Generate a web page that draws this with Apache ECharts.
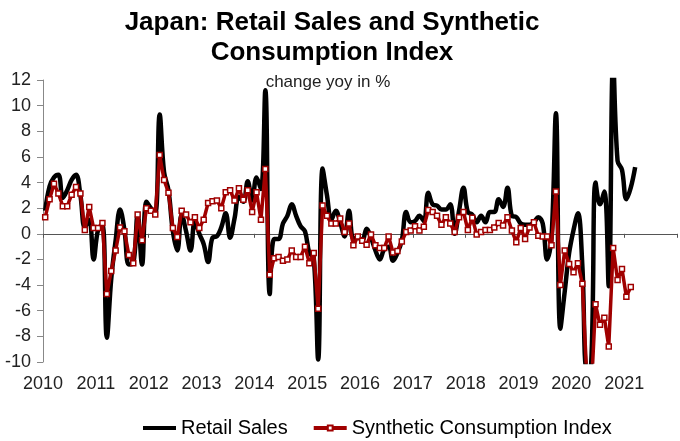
<!DOCTYPE html>
<html>
<head>
<meta charset="utf-8">
<script src="https://cdn.jsdelivr.net/npm/echarts@6/dist/echarts.min.js"></script>
<style>
  html, body { margin: 0; padding: 0; background: #fff; }
  #chart { width: 680px; height: 441px; }
</style>
</head>
<body>
<div id="chart"></div>
<script>
// First year on the axis, monthly data from Jan 2010
const startYear = 2010;
const yearTicks = ['2010', '2011', '2012', '2013', '2014', '2015', '2016', '2017', '2018', '2019', '2020', '2021'];

// Retail sales, change yoy in %
const retailSales = [
  1.8, 3.7, 4.4, 4.6, 2.8, 3.4, 4.2, 4.6, 3.0, 0.5, 1.1, -2.0,
  0.3, 0.7, -8.1, -3.5, -0.5, 1.9, 0.3, -2.4, -2.3, 1.5, -2.4, 2.5,
  2.0, 1.6, 9.3, 4.8, 3.4, 0.2, -1.3, 1.5, 0.2, -1.3, 1.0, 0.0,
  -0.8, -2.2, -0.3, -0.2, 0.5, 1.6, -0.3, 1.2, 2.9, 2.5, 4.1, 2.6,
  4.4, 3.5, 11.2, -4.7, -0.4, -0.4, 0.8, 1.4, 2.3, 1.4, 0.6, 0.2,
  -1.5, -1.9, -9.8, 5.1, 3.0, 1.1, 1.8, 0.9, -0.2, 1.8, -0.4, -0.3,
  -0.5, 0.4, -0.3, -1.3, -2.0, -1.2, -1.0, -2.1, -1.5, -0.5, 1.7, 0.9,
  1.0, 1.4, 1.0, 3.2, 2.3, 2.2, 1.9, 1.9, 2.3, 0.0, 1.8, 3.6,
  1.7, 1.5, 0.9, 1.4, 0.9, 1.7, 1.7, 2.7, 2.1, 3.6, 1.4, 1.3,
  0.8, 0.7, 0.7, 0.9, 1.3, 0.8, -2.0, -0.3, 9.4, -7.4, -4.5, -1.5,
  0.3, 1.6, -2.5, -10.5, -10.2, 4.0, 2.3, 3.3, -4.1, 13.5, 5.7, 5.0,
  2.7, 3.6, 5.2
];

// Synthetic consumption index, change yoy in %
const consumptionIndex = [
  1.3, 2.7, 3.9, 3.15, 2.15, 2.15, 3.05, 3.65, 3.15, 0.3, 2.1, 0.45,
  0.45, 0.85, -4.7, -2.9, -1.3, 0.5, 0.2, -1.65, -2.3, 1.5, -0.5, 2.0,
  1.8, 1.5, 6.15, 4.2, 3.2, 0.45, -0.25, 1.8, 1.5, 0.9, 1.3, 0.45,
  1.1, 2.4, 2.55, 2.6, 2.0, 3.25, 3.4, 2.6, 3.55, 2.65, 3.4, 1.7,
  3.25, 1.1, 5.05, -3.2, -1.9, -1.8, -2.1, -2.0, -1.3, -1.8, -1.8, -1.0,
  -2.3, -1.5, -5.85, 2.2, 1.4, 0.8, 0.8, 1.2, 0.15, 0.8, -0.9, -0.2,
  -0.55, -0.85, -0.05, -0.9, -1.1, -1.1, -0.2, -1.45, -1.35, -0.6, 0.15, 0.25,
  0.6, 0.25, 0.55, 1.85, 1.7, 1.4, 0.7, 1.3, 0.8, 0.15, 1.3, 1.7,
  0.3, 1.25, -0.05, 0.15, 0.3, 0.3, 0.5, 0.85, 0.65, 1.3, 0.25, -0.65,
  0.45, -0.4, 0.5, 0.9, -0.15, -0.2, -0.2, -0.9, 3.3, -4.0, -1.3, -2.35,
  -3.0, -2.3, -3.9, -11.0, -12.5, -5.5, -7.1, -6.55, -8.8, -1.1, -3.6, -2.75,
  -4.9, -4.15
];

const font = '"Liberation Sans", Arial, sans-serif';

// x is months since Jan 2010, each month plotted mid-month
const toPoints = arr => arr.map((v, i) => [i + 0.5, v]);

const chart = echarts.init(document.getElementById('chart'));

const yearLabel = v => {
  const k = Math.round(v / 12);
  if (Math.abs(v - k * 12) > 0.01 || k >= yearTicks.length) return '';
  return yearTicks[k];
};

const option = {
  animation: false,
  textStyle: { fontFamily: font },
  title: [
    {
      text: 'Japan: Retail Sales and Synthetic\nConsumption Index',
      left: 327,
      top: 3,
      textAlign: 'center',
      textStyle: { fontFamily: font, fontSize: 26, fontWeight: 'bold', color: '#000', lineHeight: 30 }
    },
    {
      text: 'change yoy in %',
      left: 323,
      top: 69,
      textAlign: 'center',
      textStyle: { fontFamily: font, fontSize: 17, fontWeight: 'normal', color: '#222' }
    }
  ],
  legend: {
    left: 141,
    top: 418,
    padding: 0,
    itemWidth: 33,
    itemHeight: 6,
    itemGap: 24,
    textStyle: { fontFamily: font, fontSize: 20, color: '#000' },
    data: [
      { name: 'Retail Sales', itemStyle: { opacity: 0 }, lineStyle: { width: 4, color: '#000' } },
      { name: 'Synthetic Consumption Index', lineStyle: { width: 4, color: '#a00000' } }
    ]
  },
  grid: { left: 43, top: 80, width: 638, height: 282 },
  xAxis: [
    {
      type: 'value',
      min: 0,
      max: 144,
      interval: 12,
      axisLine: { onZero: true, lineStyle: { color: '#555', width: 1 } },
      axisTick: { show: true, length: 4, lineStyle: { color: '#555' } },
      axisLabel: { show: false },
      splitLine: { show: false }
    },
    {
      type: 'value',
      position: 'bottom',
      min: 0,
      max: 144,
      interval: 12,
      axisLine: { show: false, onZero: false },
      axisTick: { show: false },
      axisLabel: { fontSize: 18, color: '#222', margin: 13, formatter: yearLabel },
      splitLine: { show: false }
    }
  ],
  yAxis: {
    type: 'value',
    min: -10,
    max: 12,
    interval: 2,
    axisLine: { show: true, onZero: false, lineStyle: { color: '#888' } },
    axisTick: { show: true, length: 6, lineStyle: { color: '#888' } },
    axisLabel: { fontSize: 18, color: '#222', margin: 12 },
    splitLine: { show: false }
  },
  series: [
    {
      name: 'Retail Sales',
      type: 'line',
      data: toPoints(retailSales),
      smooth: 0.4,
      showSymbol: false,
      symbol: 'none',
      clip: true,
      lineStyle: { color: '#000', width: 4.5 },
      itemStyle: { color: '#000' }
    },
    {
      name: 'Synthetic Consumption Index',
      type: 'line',
      data: toPoints(consumptionIndex),
      symbol: 'rect',
      symbolSize: 5,
      clip: true,
      lineStyle: { color: '#a00000', width: 3.5 },
      itemStyle: { color: '#fff', borderColor: '#a00000', borderWidth: 1.5 }
    }
  ]
};

chart.setOption(option);
</script>
</body>
</html>
